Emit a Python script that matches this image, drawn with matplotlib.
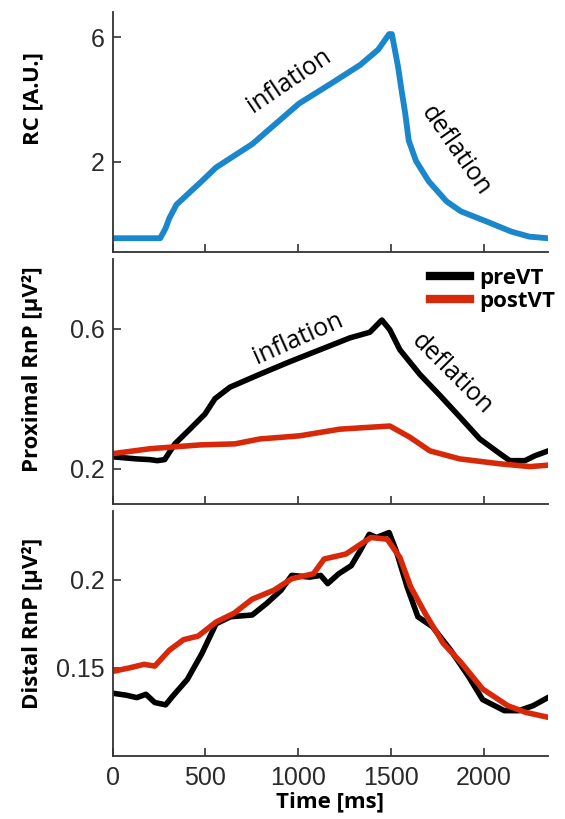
import numpy as np
import matplotlib
matplotlib.use('Agg')
import matplotlib.pyplot as plt

# RC trace (top panel)
rc_t = [0, 100, 200, 256, 285, 305, 344, 402, 480, 557, 752, 1004, 1179, 1334, 1431, 1490, 1505,
        1538, 1557, 1577, 1596, 1635, 1703, 1800, 1878, 2014, 2150, 2247, 2344]
rc_v = [-0.45, -0.45, -0.45, -0.45, -0.13, 0.19, 0.63, 0.95, 1.38, 1.82, 2.57, 3.87, 4.52, 5.11, 5.6, 6.1, 6.1,
        5.06, 4.3, 3.55, 2.68, 2.03, 1.38, 0.73, 0.41, 0.09, -0.24, -0.4, -0.45]

# proximal RnP (middle panel)
prox_pre_t = [0, 130, 200, 240, 280, 335, 416, 497, 551, 632, 793, 955, 1117, 1279, 1386, 1451, 1494,
              1548, 1655, 1763, 1871, 1979, 2087, 2141, 2222, 2276, 2343]
prox_pre_v = [0.234, 0.228, 0.226, 0.223, 0.226, 0.271, 0.313, 0.356, 0.40, 0.433, 0.47, 0.506, 0.54, 0.574,
              0.59, 0.625, 0.597, 0.54, 0.47, 0.41, 0.348, 0.285, 0.243, 0.223, 0.223, 0.237, 0.25]
prox_post_t = [0, 200, 470, 659, 793, 1008, 1224, 1494, 1602, 1710, 1871, 2087, 2249, 2343]
prox_post_v = [0.243, 0.257, 0.268, 0.271, 0.285, 0.294, 0.313, 0.322, 0.29, 0.251, 0.228, 0.214, 0.206, 0.21]

# distal RnP (bottom panel)
dist_pre_t = [0, 72, 130, 179, 227, 285, 324, 402, 480, 557, 635, 752, 829, 907, 965, 1062, 1121, 1159,
              1218, 1286, 1334, 1383, 1422, 1490, 1528, 1587, 1645, 1723, 1820, 1917, 1994, 2111, 2189,
              2266, 2344]
dist_pre_v = [0.1356, 0.1345, 0.1331, 0.135, 0.1303, 0.129, 0.134, 0.1434, 0.158, 0.175, 0.179, 0.18,
              0.1865, 0.194, 0.2025, 0.2015, 0.2025, 0.1978, 0.2034, 0.208, 0.2165, 0.2258, 0.224, 0.2268,
              0.2165, 0.196, 0.179, 0.1734, 0.1603, 0.1453, 0.132, 0.1257, 0.1257, 0.1285, 0.133]
dist_post_t = [0, 91, 169, 227, 305, 382, 460, 557, 654, 752, 868, 965, 1082, 1140, 1257, 1334, 1392,
               1480, 1548, 1606, 1684, 1781, 1878, 1994, 2130, 2227, 2344]
dist_post_v = [0.148, 0.15, 0.152, 0.151, 0.16, 0.166, 0.168, 0.176, 0.181, 0.189, 0.194, 0.2006, 0.2034,
               0.2118, 0.2146, 0.22, 0.224, 0.223, 0.2127, 0.196, 0.181, 0.164, 0.153, 0.138, 0.1285,
               0.1247, 0.122]

blue = '#1a86cc'
red = '#d8280a'
lab_font = 'Open Sans'
tick_font = 'Liberation Sans'

fig = plt.figure(figsize=(5.65, 8.19), dpi=100)
left, width = 0.1995, 0.7699
ax1 = fig.add_axes([left, 0.692, width, 0.293])
ax2 = fig.add_axes([left, 0.385, width, 0.299])
ax3 = fig.add_axes([left, 0.077, width, 0.299])

ax1.plot(rc_t, rc_v, color=blue, lw=4.2)
ax2.plot(prox_pre_t, prox_pre_v, color='black', lw=4, label='preVT')
ax2.plot(prox_post_t, prox_post_v, color=red, lw=4, label='postVT')
ax3.plot(dist_pre_t, dist_pre_v, color='black', lw=4)
ax3.plot(dist_post_t, dist_post_v, color=red, lw=4)

ax1.set_ylim(-0.9, 6.8)
ax1.set_yticks([2, 6])
ax2.set_ylim(0.1, 0.8)
ax2.set_yticks([0.2, 0.6])
ax2.set_yticklabels(['0.2', '0.6'])
ax3.set_ylim(0.10, 0.239)
ax3.set_yticks([0.15, 0.2])
ax3.set_yticklabels(['0.15', '0.2'])

for ax in (ax1, ax2, ax3):
    ax.set_xlim(0, 2345)
    ax.set_xticks([0, 500, 1000, 1500, 2000])
    for s in ('top', 'right'):
        ax.spines[s].set_visible(False)
    for s in ('left', 'bottom'):
        ax.spines[s].set_linewidth(1.3)
        ax.spines[s].set_color('#333333')
    ax.tick_params(axis='x', direction='in', length=6, width=1.2, labelsize=18, pad=7, colors='#333333')
    ax.tick_params(axis='y', direction='in', length=6, width=1.2, labelsize=18, pad=6, colors='#333333')
    for t in ax.get_xticklabels() + ax.get_yticklabels():
        t.set_fontfamily(tick_font)
        t.set_color('#2a2a2a')

ax1.tick_params(axis='x', labelbottom=False)
ax2.tick_params(axis='x', labelbottom=False)

ax1.set_ylabel('RC [A.U.]', fontsize=16, fontweight='bold', family=lab_font)
ax2.set_ylabel('Proximal RnP [\u00b5V\u00b2]', fontsize=16, fontweight='bold', family=lab_font)
ax3.set_ylabel('Distal RnP [\u00b5V\u00b2]', fontsize=16, fontweight='bold', family=lab_font)
ax1.yaxis.set_label_coords(-0.16, 0.64)
ax2.yaxis.set_label_coords(-0.16, 0.55)
ax3.yaxis.set_label_coords(-0.16, 0.54)
ax3.set_xlabel('Time [ms]', fontsize=16, fontweight='bold', family=lab_font, labelpad=1)

ax1.text(953, 4.6, 'inflation', rotation=34, fontsize=18, family=lab_font, ha='center', va='center')
ax1.text(1850, 2.35, 'deflation', rotation=-55, fontsize=18, family=lab_font, ha='center', va='center')
ax2.text(998, 0.572, 'inflation', rotation=24, fontsize=18, family=lab_font, ha='center', va='center')
ax2.text(1830, 0.47, 'deflation', rotation=-45, fontsize=18, family=lab_font, ha='center', va='center')

leg = ax2.legend(loc='upper left', bbox_to_anchor=(0.71, 1.0), frameon=False,
                 prop={'family': lab_font, 'weight': 'bold', 'size': 16},
                 handlelength=1.8, handletextpad=0.4, labelspacing=0.1, borderaxespad=0)
for h in leg.get_lines():
    h.set_linewidth(6)

fig.savefig('out.png', dpi=100)
